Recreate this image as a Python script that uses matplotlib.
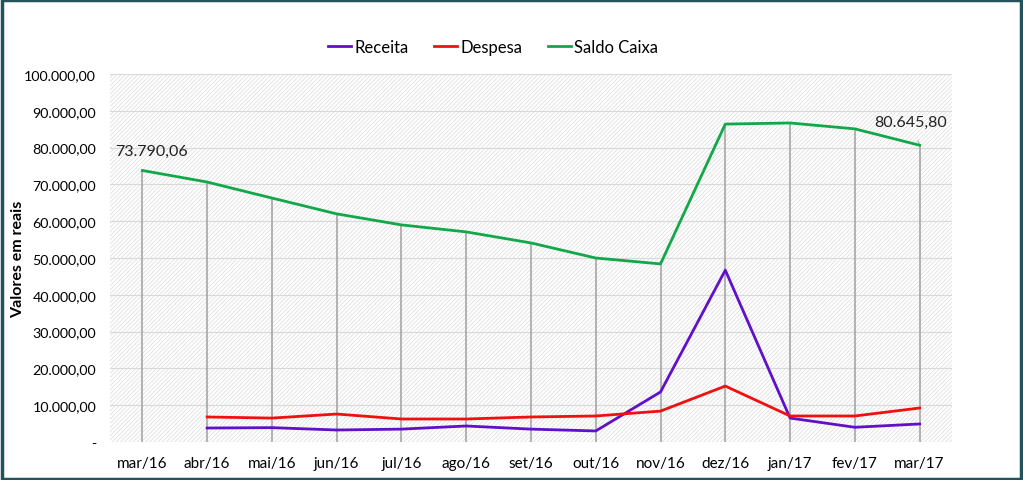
import matplotlib.pyplot as plt
import numpy as np
from matplotlib.patches import Rectangle

plt.rcParams['font.family'] = ['Lato', 'DejaVu Sans']
plt.rcParams['hatch.linewidth'] = 0.6

meses = ["mar/16", "abr/16", "mai/16", "jun/16", "jul/16", "ago/16", "set/16",
         "out/16", "nov/16", "dez/16", "jan/17", "fev/17", "mar/17"]
receita = [np.nan, 3800, 3900, 3260, 3500, 4350, 3500, 3000, 13600, 46700, 6500, 4000, 4900]
despesa = [np.nan, 6800, 6500, 7600, 6250, 6250, 6800, 7070, 8400, 15200, 7070, 7070, 9240]
saldo = [73790.06, 70650, 66300, 62000, 59000, 57100, 54100, 50000, 48400,
         86400, 86700, 85100, 80645.80]


def fmt_br(v):
    if v == 0:
        return "-"
    s = f"{v:,.2f}"
    return s.replace(",", "X").replace(".", ",").replace("X", ".")


fig = plt.figure(figsize=(10.23, 4.81), dpi=100)
ax = fig.add_axes([0.1075, 0.079, 0.8231, 0.765])

x = np.arange(len(meses))

# hatched background
bg = Rectangle((0, 0), 1, 1, transform=ax.transAxes, facecolor="white",
               hatch="////////", edgecolor="#e0e0e0", linewidth=0, zorder=0)
ax.add_patch(bg)
ax.set_facecolor("white")

ax.set_ylim(0, 100000)
ax.set_xlim(-0.5, len(meses) - 0.5)
ax.set_yticks(np.arange(0, 100001, 10000))
ax.set_yticklabels([fmt_br(v) for v in np.arange(0, 100001, 10000)])
ax.yaxis.grid(True, color="#d9d9d9", linewidth=0.8, zorder=1)
ax.set_axisbelow(True)

# drop lines
ax.vlines(x, 0, saldo, color="#a6a6a6", linewidth=1.2, zorder=2)

ax.plot(x, receita, color="#6010c8", linewidth=2, label="Receita", zorder=3)
ax.plot(x, despesa, color="#f01010", linewidth=2, label="Despesa", zorder=3)
ax.plot(x, saldo, color="#12a84a", linewidth=2, label="Saldo Caixa", zorder=4)

# data labels
ax.annotate(fmt_br(saldo[0]), xy=(x[0], saldo[0]), xytext=(x[0] + 0.14, saldo[0] + 5300),
            ha="center", va="center", fontsize=11.5, color="#222222",
            arrowprops=dict(arrowstyle="-", color="#a6a6a6", lw=0.8, shrinkA=7, shrinkB=0))
ax.annotate(fmt_br(saldo[-1]), xy=(x[-1], saldo[-1]), xytext=(x[-1] - 0.14, saldo[-1] + 6300),
            ha="center", va="center", fontsize=11.5, color="#222222",
            arrowprops=dict(arrowstyle="-", color="#a6a6a6", lw=0.8, shrinkA=7, shrinkB=0))

ax.set_xticks(x)
ax.set_xticklabels(meses, fontsize=11)
ax.tick_params(axis="y", labelsize=10.3, length=0, pad=10)
ax.tick_params(axis="x", length=0, pad=10)
for sp in ax.spines.values():
    sp.set_visible(False)

ax.set_ylabel("Valores em reais", fontsize=11.5, fontweight="bold")
ax.yaxis.set_label_coords(-0.101, 0.5)

fig.legend(loc="center", bbox_to_anchor=(0.482, 0.9), ncol=3, frameon=False,
           fontsize=12, handlelength=1.4, handletextpad=0.2, columnspacing=1.5)

# outer frame
fig.patches.append(Rectangle((0.002, 0.003), 0.996, 0.994, transform=fig.transFigure,
                             fill=False, edgecolor="#24525c", linewidth=2.5))

fig.savefig("out.png", dpi=100, facecolor="white")
